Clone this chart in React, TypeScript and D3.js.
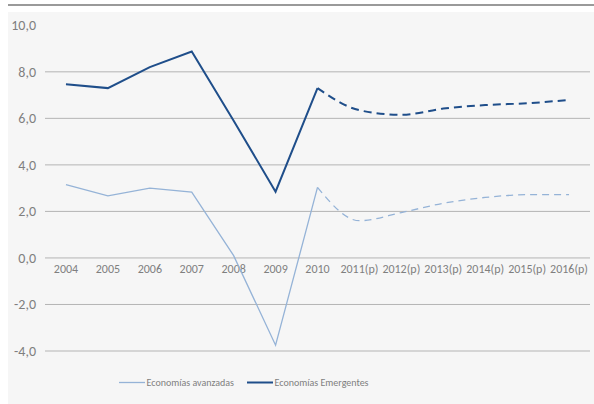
import React from 'react';
import * as d3 from 'd3';

const years = ['2004', '2005', '2006', '2007', '2008', '2009', '2010', '2011(p)', '2012(p)', '2013(p)', '2014(p)', '2015(p)', '2016(p)'];
const avanzadas = [3.15, 2.67, 3.0, 2.83, 0.1, -3.75, 3.03, 1.6, 1.95, 2.35, 2.6, 2.72, 2.72];
const emergentes = [7.47, 7.3, 8.2, 8.87, 5.9, 2.85, 7.3, 6.35, 6.15, 6.42, 6.57, 6.65, 6.79];
const yTicks = [-4, -2, 0, 2, 4, 6, 8, 10];
const lastActual = 6; // index of 2010, after it values are forecasts

const seriesNames = ['Economías avanzadas', 'Economías Emergentes'];
const seriesColors = ['#95b3d7', '#1f4e8a'];

const font = "Carlito, 'Liberation Sans Narrow', 'Liberation Sans', sans-serif";

const App: React.FC = () => {
  const width = 594;
  const height = 404;

  const x = d3.scaleBand<string>().domain(years).range([45, 590]);
  const y = d3.scaleLinear().domain([-4, 10]).range([351, 25.3]);
  const cx = (i: number) => x(years[i])! + x.bandwidth() / 2;

  const solid = d3
    .line<number>()
    .x((d, i) => cx(i))
    .y((d) => y(d));

  const dashed = d3
    .line<number>()
    .x((d, i) => cx(i + lastActual))
    .y((d) => y(d))
    .curve(d3.curveMonotoneX);

  const series = [avanzadas, emergentes];
  const widths = [1.3, 2];
  const dashes = ['7,5', '8,5'];

  return (
    <svg width={width} height={height} style={{ position: 'absolute', left: 0, top: 0 }}>
      <rect x={8} y={4} width={width - 8} height={2} fill="#9a9a9a" />
      <rect x={8} y={12} width={width - 8} height={height - 12} fill="#f6f6f6" />
      {yTicks.filter((t) => t !== 10).map((t) => (
        <line key={t} x1={45} x2={590} y1={y(t)} y2={y(t)} stroke="#b4b4b4" strokeWidth={1} />
      ))}
      {yTicks.map((t) => (
        <text key={t} x={36} y={y(t)} dy="0.35em" textAnchor="end" fontFamily={font} fontSize={14} fill="#7f7f7f">
          {d3.format('.1f')(t).replace('.', ',').replace('−', '-')}
        </text>
      ))}
      {years.map((yr) => (
        <text key={yr} x={x(yr)! + x.bandwidth() / 2} y={y(0) + 15} textAnchor="middle" fontFamily={font} fontSize={12} fill="#7f7f7f">
          {yr}
        </text>
      ))}
      {series.map((s, k) => (
        <g key={k}>
          <path d={solid(s.slice(0, lastActual + 1))!} fill="none" stroke={seriesColors[k]} strokeWidth={widths[k]} />
          <path d={dashed(s.slice(lastActual))!} fill="none" stroke={seriesColors[k]} strokeWidth={widths[k]} strokeDasharray={dashes[k]} />
        </g>
      ))}
      {seriesNames.map((n, k) => {
        const lx = k === 0 ? 119 : 247;
        return (
          <g key={n}>
            <line x1={lx} x2={lx + 26} y1={382.5} y2={382.5} stroke={seriesColors[k]} strokeWidth={widths[k]} />
            <text x={lx + 27.5} y={382.5} dy="0.35em" fontFamily={font} fontSize={10} fill="#7f7f7f">
              {n}
            </text>
          </g>
        );
      })}
    </svg>
  );
};

export default App;
